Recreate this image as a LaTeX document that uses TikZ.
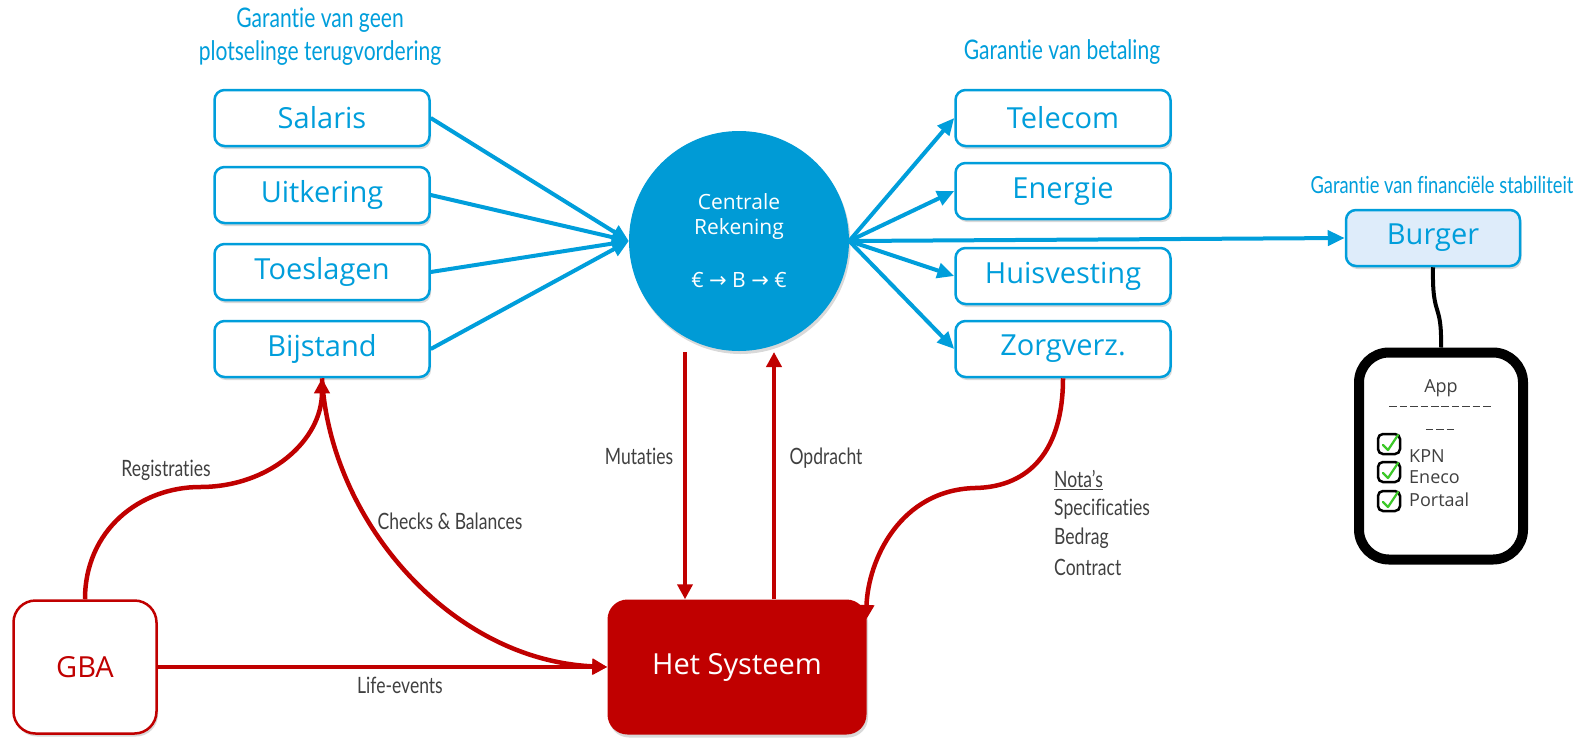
\documentclass[tikz,border=0pt]{standalone}
\usepackage{fontspec}
\setmainfont{Open Sans}
\newfontfamily\smalfont[FakeStretch=0.78, Ligatures=NoCommon]{Lato}
\newfontfamily\pijlfont{DejaVu Sans}
\usetikzlibrary{arrows.meta,shadows}

\definecolor{blauw}{RGB}{0,158,219}
\definecolor{rekblauw}{RGB}{0,155,214}
\definecolor{rood}{RGB}{192,0,0}
\definecolor{lichtblauw}{RGB}{222,236,250}
\definecolor{grijs}{RGB}{64,64,64}
\definecolor{vinkgroen}{RGB}{60,200,40}

\newcommand\streepjes[1]{\foreach \s in {1,...,#1}{\makebox[10.4pt]{\rule[5pt]{7.5pt}{1.3pt}}}}

\begin{document}
\begin{tikzpicture}[x=1pt, y=-1pt,
    post/.style={draw=blauw, line width=2.5pt, rounded corners=10pt, fill=white,
      minimum width=215pt, minimum height=56pt, text=blauw,
      font=\fontsize{29}{35}\selectfont,
      drop shadow={opacity=0.3, shadow xshift=1.5pt, shadow yshift=-3pt}},
    kop/.style={text=blauw, font=\smalfont\fontsize{27}{33}\selectfont, align=center},
    bijschrift/.style={text=grijs, font=\smalfont\fontsize{22.5}{29}\selectfont},
    geldpijl/.style={draw=blauw, line width=4pt, -{Triangle[length=17pt,width=15pt]}},
    infopijl/.style={draw=rood, line width=4.5pt, -{Triangle[length=15pt,width=15pt]}},
    apptekst/.style={text=grijs, font=\fontsize{18}{22}\selectfont, inner sep=0pt},
    vinkvak/.style={draw=black, line width=2.5pt, rounded corners=5pt,
      minimum width=22pt, minimum height=20pt, inner sep=0pt, fill=white},
    vink/.style={draw=vinkgroen, line width=2.2pt, line cap=round, line join=round}]

\useasboundingbox (0,0) rectangle (1579,737);

% koppen
\node[kop] (kop-inkomen) at (320,37) {Garantie van geen\\plotselinge terugvordering};
\node[kop] (kop-betaling) at (1062,52) {Garantie van betaling};
\node[kop, font=\smalfont\fontsize{23.5}{30}\selectfont] (kop-burger) at (1442,185)
  {Garantie van financiële stabiliteit};

% inkomsten
\node[post] (salaris) at (322,118) {Salaris};
\node[post] (uitkering) at (322,195) {Uitkering};
\node[post] (toeslagen) at (322,272) {Toeslagen};
\node[post] (bijstand) at (322,349) {Bijstand};

% uitgaven
\node[post] (telecom) at (1063,118) {Telecom};
\node[post] (energie) at (1063,191) {Energie};
\node[post] (huisvesting) at (1063,276) {Huisvesting};
\node[post] (zorg) at (1063,349) {Zorgverz.};

\node[post, fill=lichtblauw, minimum width=174pt] (burger) at (1433,238) {Burger};

\node[circle, fill=rekblauw, minimum size=220pt, text=white, align=center,
  font=\fontsize{21}{25}\selectfont,
  drop shadow={opacity=0.3, shadow xshift=1.5pt, shadow yshift=-3pt}]
  (rekening) at (739,241) {Centrale\\Rekening\\[28pt]€ {\pijlfont→} B {\pijlfont→} €};

\node[draw=rood, line width=2.5pt, rounded corners=22pt, fill=white, text=rood,
  minimum width=143pt, minimum height=133pt, font=\fontsize{29}{35}\selectfont,
  drop shadow={opacity=0.3, shadow xshift=1.5pt, shadow yshift=-3pt}]
  (gba) at (85,667) {GBA};
\node[fill=rood, rounded corners=20pt, text=white,
  minimum width=259pt, minimum height=135pt, font=\fontsize{29}{35}\selectfont,
  drop shadow={opacity=0.3, shadow xshift=1.5pt, shadow yshift=-3pt}]
  (systeem) at (737,667) {Het Systeem};

% app
\node[draw=black, line width=10pt, rounded corners=30pt, fill=white,
  minimum width=164pt, minimum height=207pt,
  drop shadow={opacity=0.3, shadow xshift=2pt, shadow yshift=-4pt}]
  (app) at (1441,456) {};
\node[apptekst] (app-titel) at (1441,388) {App};
\node[apptekst] (app-streep1) at (1440,409) {\streepjes{10}};
\node[apptekst] (app-streep2) at (1440,432) {\streepjes{3}};
\foreach \naam/\cy/\ty in {KPN/444/456, Eneco/472/477, Portaal/501/500} {
  \node[vinkvak] (vak-\naam) at (1389,\cy) {};
  \draw[vink] ([shift={(-6,1)}]vak-\naam.center) -- ([shift={(-1,6)}]vak-\naam.center)
    -- ([shift={(9,-9)}]vak-\naam.center);
  \node[apptekst, anchor=west] (tekst-\naam) at (1409,\ty) {\naam};
}

% geldstromen
\draw[geldpijl] (salaris.east) -- (rekening.west);
\draw[geldpijl] (uitkering.east) -- (rekening.west);
\draw[geldpijl] (toeslagen.east) -- (rekening.west);
\draw[geldpijl] (bijstand.east) -- (rekening.west);
\draw[geldpijl] (rekening.east) -- (telecom.west);
\draw[geldpijl] (rekening.east) -- (energie.west);
\draw[geldpijl] (rekening.east) -- (huisvesting.west);
\draw[geldpijl] (rekening.east) -- (zorg.west);
\draw[geldpijl] (rekening.east) -- (burger.west);

\draw[line width=4pt, black] (burger.south) .. controls (1432,320) and (1442,300) .. (app.north);

% informatiestromen
\coordinate (mutatie-top) at (685,352);
\coordinate (opdracht-top) at (774,352);
\coordinate (nota-eind) at (866,620);
\draw[infopijl] (mutatie-top) -- (mutatie-top |- systeem.north);
\draw[infopijl] (opdracht-top |- systeem.north) -- (opdracht-top);
\draw[infopijl] (gba.north) .. controls (85,530) and (140,487) .. (200,487)
  .. controls (270,487) and (322,440) .. (bijstand.south);
\draw[infopijl] (bijstand.south) .. controls (330,520) and (450,660) .. (systeem.west);
\draw[infopijl] (gba.east) -- (systeem.west);
\draw[infopijl] (zorg.south) .. controls (1063,450) and (1030,487) .. (975,488)
  .. controls (900,490) and (868,560) .. (nota-eind);

% bijschriften
\node[bijschrift] (registraties) at (166,470) {Registraties};
\node[bijschrift] (checks) at (450,521) {Checks \& Balances};
\node[bijschrift] (life) at (400,685) {Life-events};
\node[bijschrift] (mutaties) at (639,456) {Mutaties};
\node[bijschrift] (opdracht) at (826,458) {Opdracht};
\node[bijschrift, anchor=west, inner sep=0pt] (nota) at (1054,480) {\underline{Nota’s}};
\node[bijschrift, anchor=west, inner sep=0pt] (spec) at (1054,509) {Specificaties};
\node[bijschrift, anchor=west, inner sep=0pt] (bedrag) at (1054,538) {Bedrag};
\node[bijschrift, anchor=west, inner sep=0pt] (contract) at (1054,567) {Contract};
\end{tikzpicture}
\end{document}
